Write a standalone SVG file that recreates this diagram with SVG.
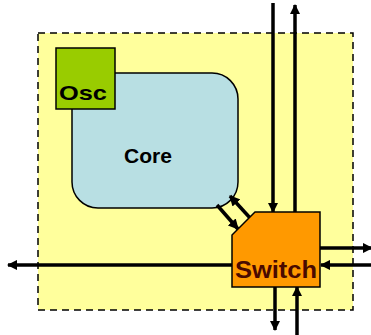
<svg xmlns="http://www.w3.org/2000/svg" width="371" height="335" viewBox="0 0 371 335">
<style>
.conn{stroke:#000;stroke-width:3.5;fill:none}
.lbl{font-family:"Liberation Sans",Arial,sans-serif;font-weight:bold}
</style>
<defs>
<marker id="ah" viewBox="0 0 10 10" refX="9" refY="5" markerWidth="3" markerHeight="3" orient="auto" markerUnits="strokeWidth">
<path d="M0,0 L10,5 L0,10 z" fill="#000"/>
</marker>
</defs>
<rect width="371" height="335" fill="#fff"/>
<g id="tile">
<rect x="38" y="33" width="315" height="277" fill="#ffff9c" stroke="#000" stroke-width="1.5" stroke-dasharray="7,5"/>
</g>
<g id="core">
<rect x="72" y="73" width="166" height="135" rx="26" ry="26" fill="#b8dfe3" stroke="#000" stroke-width="1.5"/>
<text class="lbl" x="148" y="163" font-size="21" text-anchor="middle" font-weight="bold" textLength="48" lengthAdjust="spacingAndGlyphs">Core</text>
</g>
<g id="osc">
<rect x="56" y="48" width="59" height="61" fill="#99cc00" stroke="#000" stroke-width="1.5"/>
<text class="lbl" x="59" y="100" font-size="21" textLength="48" lengthAdjust="spacingAndGlyphs">Osc</text>
</g>
<g id="connectors">
<line class="conn" x1="273" y1="3" x2="273" y2="212" marker-end="url(#ah)"/>
<line class="conn" x1="295" y1="212" x2="295" y2="5" marker-end="url(#ah)"/>
<line class="conn" x1="275" y1="287" x2="275" y2="330" marker-end="url(#ah)"/>
<line class="conn" x1="297" y1="335" x2="297" y2="287" marker-end="url(#ah)"/>
<line class="conn" x1="232" y1="265" x2="8" y2="265" marker-end="url(#ah)"/>
<line class="conn" x1="320" y1="248" x2="372" y2="248" marker-end="url(#ah)"/>
<line class="conn" x1="371" y1="265" x2="321" y2="265" marker-end="url(#ah)"/>
<line class="conn" x1="217" y1="205" x2="238" y2="229" marker-end="url(#ah)"/>
<line class="conn" x1="251" y1="219" x2="230" y2="196" marker-end="url(#ah)"/>
</g>
<g id="switch">
<path d="M255,212 L320,212 L320,287 L232,287 L232,235 Z" fill="#ff9900" stroke="#000" stroke-width="1.5"/>
<text class="lbl" x="235" y="278" font-size="23" fill="#4a0a00" textLength="82" lengthAdjust="spacingAndGlyphs">Switch</text>
</g>
</svg>
